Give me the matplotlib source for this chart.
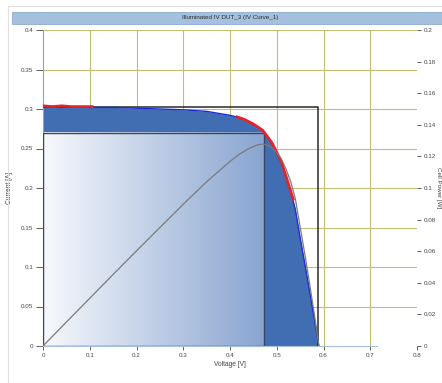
import matplotlib

matplotlib.use("Agg")
import matplotlib.pyplot as plt
import numpy as np
from matplotlib.colors import LinearSegmentedColormap
from matplotlib.patches import Rectangle

plt.rcParams["font.family"] = ["Liberation Sans", "DejaVu Sans"]

# IV curve
voltage = [0.0, 0.05, 0.1, 0.15, 0.2, 0.25, 0.3, 0.35, 0.4, 0.42, 0.44, 0.46,
           0.47, 0.48, 0.49, 0.5, 0.51, 0.52, 0.53, 0.54, 0.55, 0.56, 0.57,
           0.58, 0.59]
current = [0.303, 0.303, 0.302, 0.302, 0.301, 0.300, 0.299, 0.297, 0.292,
           0.289, 0.284, 0.277, 0.272, 0.265, 0.256, 0.245, 0.232, 0.215,
           0.196, 0.172, 0.137, 0.104, 0.070, 0.036, 0.0]

# measured points shown in red
meas_v1 = [0.0, 0.02, 0.04, 0.06, 0.08, 0.105]
meas_i1 = [0.304, 0.303, 0.304, 0.303, 0.303, 0.303]
meas_v2 = [0.415, 0.43, 0.45, 0.47, 0.49, 0.51, 0.525, 0.535]
meas_i2 = [0.290, 0.287, 0.281, 0.273, 0.257, 0.233, 0.205, 0.186]

isc = 0.302
voc = 0.589
vmp = 0.472
imp = 0.270

x_ticks = [0, 0.1, 0.2, 0.3, 0.4, 0.5, 0.6, 0.7, 0.8]
x_labels = ["0", "0.1", "0.2", "0.3", "0.4", "0.5", "0.6", "0.7", "0.8"]
y_ticks = [0, 0.05, 0.1, 0.15, 0.2, 0.25, 0.3, 0.35, 0.4]
y_labels = ["0", "0.05", "0.1", "0.15", "0.2", "0.25", "0.3", "0.35", "0.4"]
p_ticks = [0, 0.02, 0.04, 0.06, 0.08, 0.1, 0.12, 0.14, 0.16, 0.18, 0.2]
p_labels = ["0", "0.02", "0.04", "0.06", "0.08", "0.1", "0.12", "0.14",
            "0.16", "0.18", "0.2"]

title = "Illuminated IV DUT_3 (IV Curve_1)"

fig = plt.figure(figsize=(4.42, 3.83), dpi=100)
fig.patch.set_facecolor("white")

# outer panel and title bar
fig.patches.append(Rectangle((8 / 442, 0), 434 / 442, 377 / 383,
                             transform=fig.transFigure, facecolor="none",
                             edgecolor="#e0e0e0", lw=0.8))
fig.patches.append(Rectangle((12 / 442, 1 - 24 / 383), 430 / 442, 12 / 383,
                             transform=fig.transFigure, facecolor="#a4c0de",
                             edgecolor="#8eaacd", lw=0.6))
fig.text(230 / 442, 1 - 18 / 383, title, ha="center", va="center",
         fontsize=4.5, color="#2a2a2a")

ax = fig.add_axes([43 / 442, 37 / 383, 374 / 442, 316 / 383])
ax.set_xlim(0, 0.8)
ax.set_ylim(0, 0.4)

grid_c = "#bfbf72"
for x in x_ticks[1:-1]:
    ax.axvline(x, color=grid_c, lw=0.8, zorder=0)
for y in y_ticks[1:]:
    ax.axhline(y, color=grid_c, lw=0.8, zorder=0)

# filled area under IV curve
ax.fill_between(voltage, current, 0, color="#416eb3", lw=0, zorder=1)

# gradient max power rectangle
cmap = LinearSegmentedColormap.from_list("mp", ["#f7f9fc", "#89a5d0"])
grad = np.linspace(0, 1, 256).reshape(1, -1)
ax.imshow(grad, extent=[0, vmp, 0, imp], cmap=cmap, aspect="auto",
          zorder=2, interpolation="bilinear")
ax.add_patch(Rectangle((0, 0), vmp, imp, facecolor="none",
                       edgecolor="#34466a", lw=1.0, zorder=3))
ax.set_xlim(0, 0.8)
ax.set_ylim(0, 0.4)

# Isc x Voc rectangle
ax.plot([0, voc, voc], [isc, isc, 0], color="#2a2a2a", lw=1.1, zorder=4)

# fit and measurements
ax.plot(voltage, current, color="#1a2fd0", lw=1.0, zorder=5)
ax.plot(meas_v1, meas_i1, color="#e8202a", lw=2.0, zorder=6)
ax.plot(meas_v2, meas_i2, color="#e8202a", lw=2.0, zorder=6)

for s in ["top", "right"]:
    ax.spines[s].set_visible(False)
ax.spines["left"].set_color("#a0a0a0")
ax.spines["left"].set_linewidth(0.8)
ax.spines["bottom"].set_color("#a9bfe0")
ax.spines["bottom"].set_linewidth(0.8)
ax.spines["bottom"].set_bounds(0, 0.715)

ax.set_xticks(x_ticks)
ax.set_xticklabels(x_labels)
ax.set_yticks(y_ticks)
ax.set_yticklabels(y_labels)
ax.tick_params(axis="both", labelsize=4.5, colors="#444444", length=3,
               width=0.6, pad=2)
ax.tick_params(axis="y", length=5)
ax.set_xlabel("Voltage [V]", fontsize=4.8, color="#444444", labelpad=2)
ax.set_ylabel("Current [A]", fontsize=4.8, color="#444444", labelpad=6)

# power curve on the right axis
power = [v * i for v, i in zip(voltage, current)]
ax2 = ax.twinx()
ax2.set_ylim(0, 0.2)
ax2.plot(voltage, power, color="#7a7a7a", lw=0.9)
for s in ["top", "left", "bottom", "right"]:
    ax2.spines[s].set_visible(False)
ax2.set_yticks(p_ticks)
ax2.set_yticklabels(p_labels)
ax2.tick_params(axis="y", labelsize=4.5, colors="#444444", length=3,
                width=0.6, pad=2)
fig.text(438 / 442, 1 - 188 / 383, "Cell Power [W]",
         rotation=270, ha="center", va="center", fontsize=4.5,
         color="#444444")

fig.savefig("out.png", dpi=100)
